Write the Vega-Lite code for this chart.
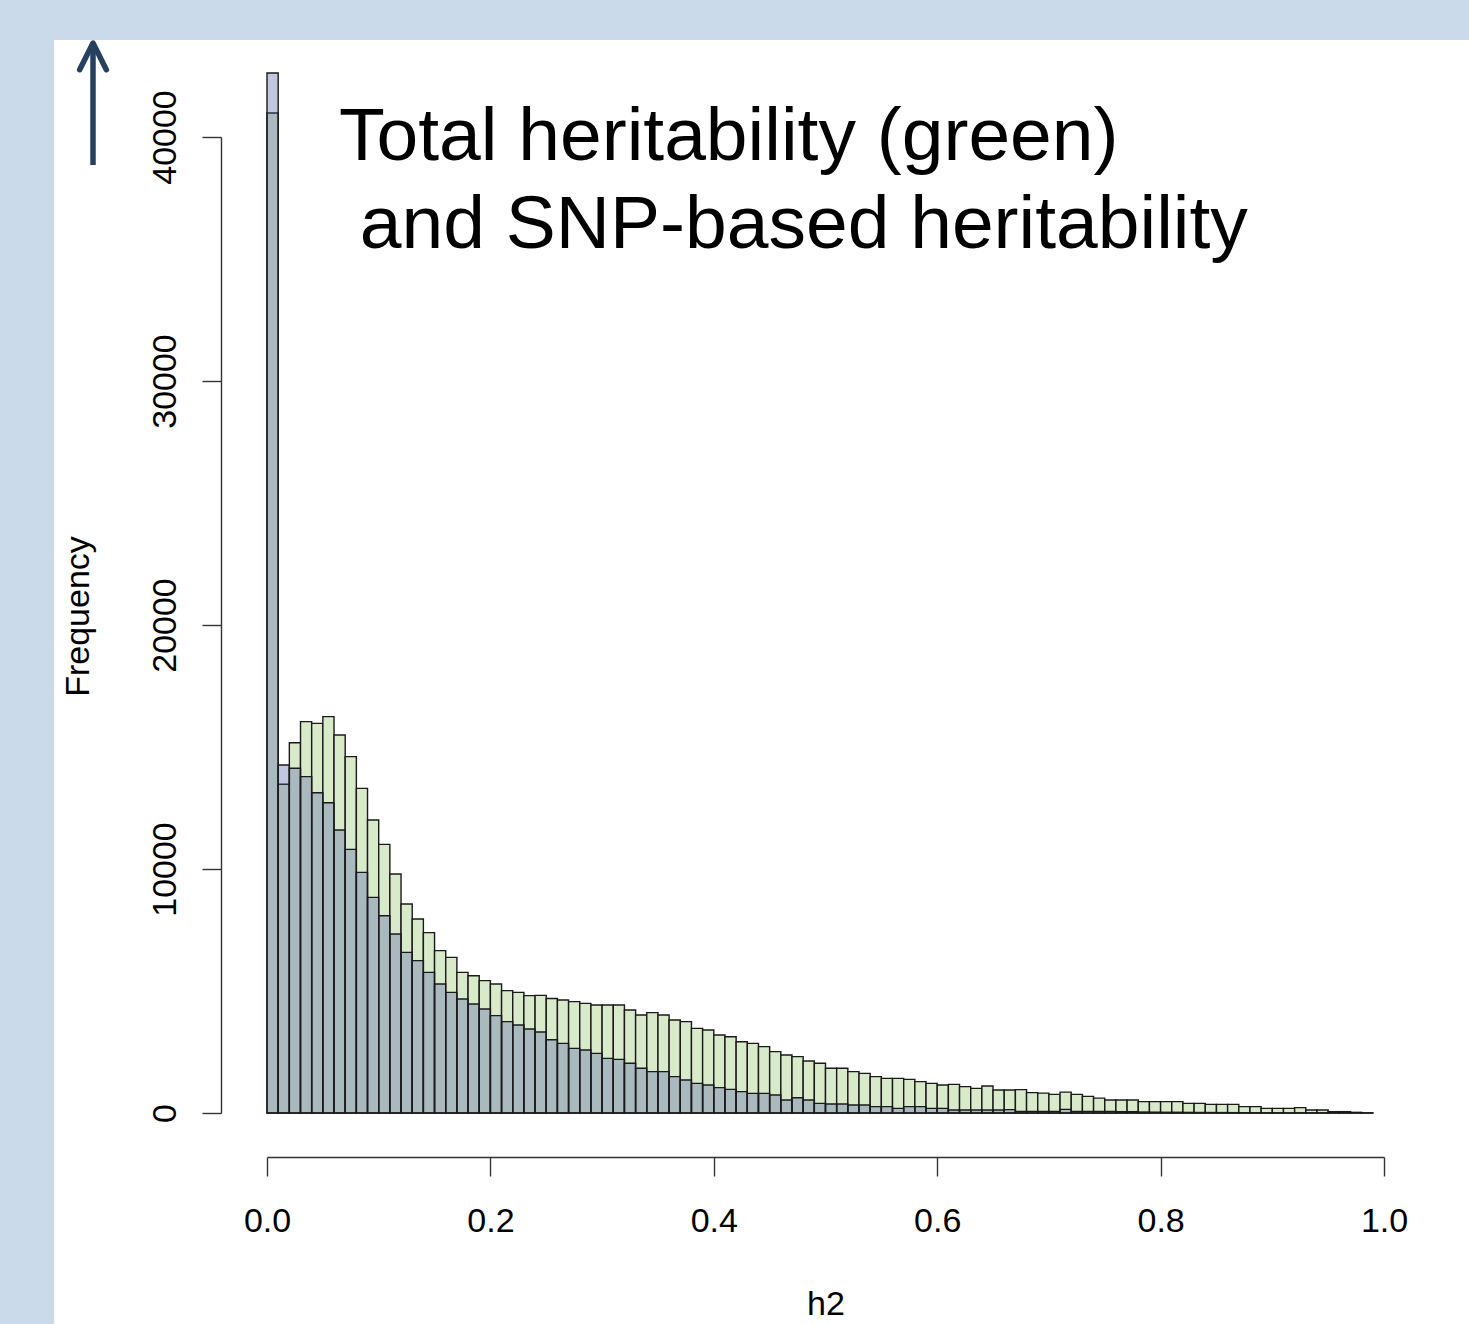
{
  "$schema": "https://vega.github.io/schema/vega-lite/v6.json",
  "width": 1117,
  "height": 976,
  "autosize": {"type": "none"},
  "padding": {"left": 267, "top": 137, "right": 85, "bottom": 211},
  "background": "#cbdaeb",
  "config": {"view": {"stroke": null}, "font": "Liberation Sans"},
  "title": {
    "text": ["Total heritability (green)", "\u200b\u00a0and SNP-based heritability"],
    "anchor": "start",
    "frame": "group",
    "orient": "top",
    "font": "Liberation Sans",
    "fontSize": 75,
    "fontWeight": "normal",
    "color": "#000000",
    "baseline": "top",
    "lineHeight": 88,
    "dx": 72,
    "offset": -224
  },
  "datasets": {
    "total": [
      {"lo":0.00,"hi":0.01,"count":40984},{"lo":0.01,"hi":0.02,"count":13471},{"lo":0.02,"hi":0.03,"count":15176},{"lo":0.03,"hi":0.04,"count":16038},{"lo":0.04,"hi":0.05,"count":15970},
      {"lo":0.05,"hi":0.06,"count":16243},{"lo":0.06,"hi":0.07,"count":15492},{"lo":0.07,"hi":0.08,"count":14604},{"lo":0.08,"hi":0.09,"count":13306},{"lo":0.09,"hi":0.10,"count":12008},
      {"lo":0.10,"hi":0.11,"count":11011},{"lo":0.11,"hi":0.12,"count":9795},{"lo":0.12,"hi":0.13,"count":8566},{"lo":0.13,"hi":0.14,"count":7951},{"lo":0.14,"hi":0.15,"count":7391},
      {"lo":0.15,"hi":0.16,"count":6653},{"lo":0.16,"hi":0.17,"count":6380},{"lo":0.17,"hi":0.18,"count":5765},{"lo":0.18,"hi":0.19,"count":5628},{"lo":0.19,"hi":0.20,"count":5424},
      {"lo":0.20,"hi":0.21,"count":5287},{"lo":0.21,"hi":0.22,"count":5014},{"lo":0.22,"hi":0.23,"count":4945},{"lo":0.23,"hi":0.24,"count":4809},{"lo":0.24,"hi":0.25,"count":4820},
      {"lo":0.25,"hi":0.26,"count":4690},{"lo":0.26,"hi":0.27,"count":4631},{"lo":0.27,"hi":0.28,"count":4563},{"lo":0.28,"hi":0.29,"count":4494},{"lo":0.29,"hi":0.30,"count":4426},
      {"lo":0.30,"hi":0.31,"count":4426},{"lo":0.31,"hi":0.32,"count":4426},{"lo":0.32,"hi":0.33,"count":4221},{"lo":0.33,"hi":0.34,"count":4016},{"lo":0.34,"hi":0.35,"count":4112},
      {"lo":0.35,"hi":0.36,"count":4016},{"lo":0.36,"hi":0.37,"count":3811},{"lo":0.37,"hi":0.38,"count":3743},{"lo":0.38,"hi":0.39,"count":3470},{"lo":0.39,"hi":0.40,"count":3402},
      {"lo":0.40,"hi":0.41,"count":3197},{"lo":0.41,"hi":0.42,"count":3128},{"lo":0.42,"hi":0.43,"count":2923},{"lo":0.43,"hi":0.44,"count":2855},{"lo":0.44,"hi":0.45,"count":2719},
      {"lo":0.45,"hi":0.46,"count":2514},{"lo":0.46,"hi":0.47,"count":2377},{"lo":0.47,"hi":0.48,"count":2309},{"lo":0.48,"hi":0.49,"count":2131},{"lo":0.49,"hi":0.50,"count":2036},
      {"lo":0.50,"hi":0.51,"count":1831},{"lo":0.51,"hi":0.52,"count":1831},{"lo":0.52,"hi":0.53,"count":1694},{"lo":0.53,"hi":0.54,"count":1626},{"lo":0.54,"hi":0.55,"count":1489},
      {"lo":0.55,"hi":0.56,"count":1421},{"lo":0.56,"hi":0.57,"count":1421},{"lo":0.57,"hi":0.58,"count":1380},{"lo":0.58,"hi":0.59,"count":1284},{"lo":0.59,"hi":0.60,"count":1216},
      {"lo":0.60,"hi":0.61,"count":1148},{"lo":0.61,"hi":0.62,"count":1175},{"lo":0.62,"hi":0.63,"count":1079},{"lo":0.63,"hi":0.64,"count":1011},{"lo":0.64,"hi":0.65,"count":1107},
      {"lo":0.65,"hi":0.66,"count":943},{"lo":0.66,"hi":0.67,"count":943},{"lo":0.67,"hi":0.68,"count":960},{"lo":0.68,"hi":0.69,"count":833},{"lo":0.69,"hi":0.70,"count":815},
      {"lo":0.70,"hi":0.71,"count":765},{"lo":0.71,"hi":0.72,"count":855},{"lo":0.72,"hi":0.73,"count":765},{"lo":0.73,"hi":0.74,"count":680},{"lo":0.74,"hi":0.75,"count":610},
      {"lo":0.75,"hi":0.76,"count":533},{"lo":0.76,"hi":0.77,"count":533},{"lo":0.77,"hi":0.78,"count":533},{"lo":0.78,"hi":0.79,"count":465},{"lo":0.79,"hi":0.80,"count":465},
      {"lo":0.80,"hi":0.81,"count":465},{"lo":0.81,"hi":0.82,"count":465},{"lo":0.82,"hi":0.83,"count":396},{"lo":0.83,"hi":0.84,"count":396},{"lo":0.84,"hi":0.85,"count":355},
      {"lo":0.85,"hi":0.86,"count":355},{"lo":0.86,"hi":0.87,"count":355},{"lo":0.87,"hi":0.88,"count":260},{"lo":0.88,"hi":0.89,"count":260},{"lo":0.89,"hi":0.90,"count":191},
      {"lo":0.90,"hi":0.91,"count":191},{"lo":0.91,"hi":0.92,"count":191},{"lo":0.92,"hi":0.93,"count":219},{"lo":0.93,"hi":0.94,"count":123},{"lo":0.94,"hi":0.95,"count":123},
      {"lo":0.95,"hi":0.96,"count":55},{"lo":0.96,"hi":0.97,"count":55},{"lo":0.97,"hi":0.98,"count":27},{"lo":0.98,"hi":0.99,"count":5}
    ],
    "snp": [
      {"lo":0.00,"hi":0.01,"count":42623},{"lo":0.01,"hi":0.02,"count":14262},{"lo":0.02,"hi":0.03,"count":14127},{"lo":0.03,"hi":0.04,"count":13784},{"lo":0.04,"hi":0.05,"count":13128},
      {"lo":0.05,"hi":0.06,"count":12718},{"lo":0.06,"hi":0.07,"count":11598},{"lo":0.07,"hi":0.08,"count":10806},{"lo":0.08,"hi":0.09,"count":9863},{"lo":0.09,"hi":0.10,"count":8839},
      {"lo":0.10,"hi":0.11,"count":8087},{"lo":0.11,"hi":0.12,"count":7336},{"lo":0.12,"hi":0.13,"count":6585},{"lo":0.13,"hi":0.14,"count":6243},{"lo":0.14,"hi":0.15,"count":5765},
      {"lo":0.15,"hi":0.16,"count":5287},{"lo":0.16,"hi":0.17,"count":4945},{"lo":0.17,"hi":0.18,"count":4672},{"lo":0.18,"hi":0.19,"count":4467},{"lo":0.19,"hi":0.20,"count":4262},
      {"lo":0.20,"hi":0.21,"count":3989},{"lo":0.21,"hi":0.22,"count":3743},{"lo":0.22,"hi":0.23,"count":3607},{"lo":0.23,"hi":0.24,"count":3443},{"lo":0.24,"hi":0.25,"count":3320},
      {"lo":0.25,"hi":0.26,"count":3005},{"lo":0.26,"hi":0.27,"count":2855},{"lo":0.27,"hi":0.28,"count":2650},{"lo":0.28,"hi":0.29,"count":2582},{"lo":0.29,"hi":0.30,"count":2445},
      {"lo":0.30,"hi":0.31,"count":2240},{"lo":0.31,"hi":0.32,"count":2199},{"lo":0.32,"hi":0.33,"count":2036},{"lo":0.33,"hi":0.34,"count":1831},{"lo":0.34,"hi":0.35,"count":1694},
      {"lo":0.35,"hi":0.36,"count":1694},{"lo":0.36,"hi":0.37,"count":1489},{"lo":0.37,"hi":0.38,"count":1352},{"lo":0.38,"hi":0.39,"count":1216},{"lo":0.39,"hi":0.40,"count":1148},
      {"lo":0.40,"hi":0.41,"count":1038},{"lo":0.41,"hi":0.42,"count":970},{"lo":0.42,"hi":0.43,"count":874},{"lo":0.43,"hi":0.44,"count":806},{"lo":0.44,"hi":0.45,"count":806},
      {"lo":0.45,"hi":0.46,"count":738},{"lo":0.46,"hi":0.47,"count":533},{"lo":0.47,"hi":0.48,"count":628},{"lo":0.48,"hi":0.49,"count":533},{"lo":0.49,"hi":0.50,"count":396},
      {"lo":0.50,"hi":0.51,"count":369},{"lo":0.51,"hi":0.52,"count":369},{"lo":0.52,"hi":0.53,"count":328},{"lo":0.53,"hi":0.54,"count":328},{"lo":0.54,"hi":0.55,"count":260},
      {"lo":0.55,"hi":0.56,"count":260},{"lo":0.56,"hi":0.57,"count":191},{"lo":0.57,"hi":0.58,"count":260},{"lo":0.58,"hi":0.59,"count":260},{"lo":0.59,"hi":0.60,"count":191},
      {"lo":0.60,"hi":0.61,"count":191},{"lo":0.61,"hi":0.62,"count":123},{"lo":0.62,"hi":0.63,"count":123},{"lo":0.63,"hi":0.64,"count":123},{"lo":0.64,"hi":0.65,"count":123},
      {"lo":0.65,"hi":0.66,"count":123},{"lo":0.66,"hi":0.67,"count":140},{"lo":0.67,"hi":0.68,"count":68},{"lo":0.68,"hi":0.69,"count":68},{"lo":0.69,"hi":0.70,"count":68},
      {"lo":0.70,"hi":0.71,"count":68},{"lo":0.71,"hi":0.72,"count":150},{"lo":0.72,"hi":0.73,"count":68},{"lo":0.73,"hi":0.74,"count":68},{"lo":0.74,"hi":0.75,"count":68},
      {"lo":0.75,"hi":0.76,"count":68},{"lo":0.76,"hi":0.77,"count":55},{"lo":0.77,"hi":0.78,"count":55},{"lo":0.78,"hi":0.79,"count":40},{"lo":0.79,"hi":0.80,"count":35},
      {"lo":0.80,"hi":0.81,"count":30},{"lo":0.81,"hi":0.82,"count":30},{"lo":0.82,"hi":0.83,"count":25},{"lo":0.83,"hi":0.84,"count":22},{"lo":0.84,"hi":0.85,"count":20},
      {"lo":0.85,"hi":0.86,"count":18},{"lo":0.86,"hi":0.87,"count":15},{"lo":0.87,"hi":0.88,"count":12},{"lo":0.88,"hi":0.89,"count":10},{"lo":0.89,"hi":0.90,"count":8},
      {"lo":0.90,"hi":0.91,"count":7},{"lo":0.91,"hi":0.92,"count":6},{"lo":0.92,"hi":0.93,"count":5},{"lo":0.93,"hi":0.94,"count":4},{"lo":0.94,"hi":0.95,"count":3},
      {"lo":0.95,"hi":0.96,"count":2},{"lo":0.96,"hi":0.97,"count":2},{"lo":0.97,"hi":0.98,"count":1},{"lo":0.98,"hi":0.99,"count":1}
    ]
  },
  "layer": [
    {
      "data": {"values": [{}]},
      "mark": {"type": "rect", "fill": "#ffffff", "strokeWidth": 0},
      "encoding": {
        "x": {
          "datum": -0.19069, "type": "quantitative", "scale": {"domain": [0, 1], "nice": false, "zero": false},
          "axis": {
            "title": "h2", "values": [0, 0.2, 0.4, 0.6, 0.8, 1.0], "format": ".1f",
            "offset": 44, "tickSize": 19, "grid": false, "zindex": 1,
            "domainColor": "#333333", "domainWidth": 1.4, "tickColor": "#333333", "tickWidth": 1.4,
            "labelFont": "Liberation Sans", "labelFontSize": 34, "labelColor": "#000000",
            "labelBaseline": "top", "labelPadding": 28, "labelFlush": false, "labelOverlap": false,
            "titleFont": "Liberation Sans", "titleFontSize": 34, "titleFontWeight": "normal", "titleColor": "#000000",
            "titleX": 558.5, "titleY": 157, "titleBaseline": "alphabetic", "titleAlign": "center"
          }
        },
        "x2": {"datum": 1.2},
        "y": {
          "datum": -12000, "type": "quantitative", "scale": {"domain": [0, 40000], "nice": false},
          "axis": {
            "title": "Frequency", "values": [0, 10000, 20000, 30000, 40000], "format": "d",
            "offset": 46, "tickSize": 19, "grid": false, "zindex": 1,
            "domainColor": "#333333", "domainWidth": 1.4, "tickColor": "#333333", "tickWidth": 1.4,
            "labelFont": "Liberation Sans", "labelFontSize": 34, "labelColor": "#000000",
            "labelAngle": -90, "labelAlign": "center", "labelBaseline": "alphabetic", "labelPadding": 27,
            "labelFlush": false, "labelOverlap": false,
            "titleFont": "Liberation Sans", "titleFontSize": 34, "titleFontWeight": "normal", "titleColor": "#000000",
            "titleAngle": -90, "titleX": -133, "titleY": 479, "titleBaseline": "alphabetic", "titleAlign": "center"
          }
        },
        "y2": {"datum": 43975}
      }
    },
    {
      "data": {"values": [{}]},
      "mark": {"type": "rule", "stroke": "#26405f", "strokeWidth": 5.5, "strokeCap": "butt"},
      "encoding": {
        "x": {"datum": -0.15577, "type": "quantitative"},
        "y": {"datum": 38852, "type": "quantitative"},
        "y2": {"datum": 43770}
      }
    },
    {
      "data": {"values": [{}]},
      "mark": {"type": "point", "shape": "M-0.5,1L0,0L0.5,1", "filled": false, "stroke": "#26405f", "strokeWidth": 5.5, "strokeCap": "round", "strokeJoin": "round", "size": 2852, "opacity": 1},
      "encoding": {
        "x": {"datum": -0.15577, "type": "quantitative"},
        "y": {"datum": 43852, "type": "quantitative"}
      }
    },
    {
      "data": {"name": "total"},
      "mark": {"type": "bar", "fill": "#d9eacb", "stroke": "#1a1a1a", "strokeWidth": 1.4},
      "encoding": {
        "x": {"field": "lo", "type": "quantitative"},
        "x2": {"field": "hi"},
        "y": {"field": "count", "type": "quantitative"},
        "y2": {"datum": 0}
      }
    },
    {
      "data": {"name": "snp"},
      "mark": {"type": "bar", "fill": "#4c5aa5", "fillOpacity": 0.34, "stroke": "#1a1a1a", "strokeWidth": 1.4, "strokeOpacity": 1},
      "encoding": {
        "x": {"field": "lo", "type": "quantitative"},
        "x2": {"field": "hi"},
        "y": {"field": "count", "type": "quantitative"},
        "y2": {"datum": 0}
      }
    }
  ]
}
